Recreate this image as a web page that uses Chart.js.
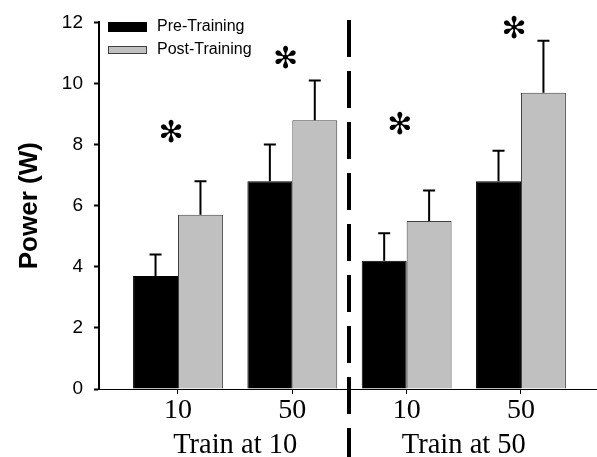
<!DOCTYPE html>
<html>
<head>
<meta charset="utf-8">
<script src="https://cdn.jsdelivr.net/npm/chart.js"></script>
<style>
  html, body { margin: 0; padding: 0; background: #fff; }
  #wrap { width: 597px; height: 457px; }
</style>
</head>
<body>
<div id="wrap"><canvas id="powerChart"></canvas></div>
<script>
// values
const categories = ['10', '50', '10', '50'];
const groups = ['Train at 10', 'Train at 50'];
const preMean = [3.7, 6.8, 4.2, 6.8];
const preSE = [0.7, 1.2, 0.9, 1.0];
const postMean = [5.7, 8.8, 5.5, 9.7];
const postSE = [1.1, 1.3, 1.0, 1.7];
const starLevel = [8.35, 10.75, 8.6, 11.75];
const yTicks = [0, 2, 4, 6, 8, 10, 12];

const errorBars = {
    id: 'errorBars',
    afterDatasetsDraw(chart) {
        const ctx = chart.ctx;
        const y = chart.scales.y;
        const sets = [preSE, postSE];
        ctx.save();
        ctx.strokeStyle = '#000';
        ctx.lineWidth = 2;
        chart.data.datasets.forEach((ds, d) => {
            chart.getDatasetMeta(d).data.forEach((bar, i) => {
                const top = y.getPixelForValue(ds.data[i].y + sets[d][i]);
                ctx.beginPath();
                ctx.moveTo(bar.x, bar.y);
                ctx.lineTo(bar.x, top);
                ctx.moveTo(bar.x - 6, top);
                ctx.lineTo(bar.x + 6, top);
                ctx.stroke();
            });
        });
        ctx.restore();
    }
};

const extras = {
    id: 'extras',
    afterDraw(chart) {
        const ctx = chart.ctx;
        const x = chart.scales.x;
        const y = chart.scales.y;
        ctx.save();

        // significance stars
        ctx.fillStyle = '#000';
        ctx.font = '30px "DejaVu Sans"';
        ctx.textAlign = 'center';
        ctx.textBaseline = 'middle';
        starLevel.forEach((v, i) => {
            ctx.fillText('\u273B', x.getPixelForValue(i - 0.06), y.getPixelForValue(v));
        });

        // group labels
        ctx.font = '28.5px "Liberation Serif"';
        ctx.textBaseline = 'alphabetic';
        groups.forEach((g, k) => {
            ctx.fillText(g, x.getPixelForValue(k * 2 + 0.5), 453);
        });

        // divider
        const dx = Math.round(x.getPixelForValue(1.5));
        ctx.strokeStyle = '#000';
        ctx.lineWidth = 4;
        ctx.setLineDash([37, 14]);
        ctx.beginPath();
        ctx.moveTo(dx, 20);
        ctx.lineTo(dx, 457);
        ctx.stroke();
        ctx.setLineDash([]);

        // legend
        ctx.fillStyle = '#000';
        ctx.fillRect(108, 22, 39, 10);
        ctx.fillStyle = '#c0c0c0';
        ctx.fillRect(108.5, 46.5, 38, 7);
        ctx.lineWidth = 1;
        ctx.strokeStyle = '#404040';
        ctx.strokeRect(108.5, 46.5, 38, 7);
        ctx.fillStyle = '#000';
        ctx.font = '16px "Liberation Sans"';
        ctx.textAlign = 'left';
        ctx.textBaseline = 'middle';
        chart.data.datasets.forEach((ds, d) => {
            ctx.fillText(ds.label, 157, d === 0 ? 27 : 50);
        });
        ctx.restore();
    }
};

new Chart(document.getElementById('powerChart'), {
    type: 'bar',
    data: {
        datasets: [{
            label: 'Pre-Training',
            data: preMean.map((v, i) => ({ x: i, y: v })),
            backgroundColor: '#000',
            borderColor: '#000',
            borderWidth: 1
        }, {
            label: 'Post-Training',
            data: postMean.map((v, i) => ({ x: i, y: v })),
            backgroundColor: '#c0c0c0',
            borderColor: '#404040',
            borderWidth: 1
        }]
    },
    options: {
        responsive: true,
        maintainAspectRatio: false,
        animation: false,
        categoryPercentage: 0.786,
        barPercentage: 1,
        layout: { padding: { top: 22, right: 0, left: 0, bottom: 0 } },
        plugins: {
            legend: { display: false },
            tooltip: { enabled: false }
        },
        scales: {
            x: {
                type: 'linear',
                offset: false,
                min: -0.691,
                max: 3.665,
                afterBuildTicks: scale => { scale.ticks = categories.map((c, i) => ({ value: i })); },
                afterFit: scale => { scale.height = 68; },
                grid: { display: true, offset: false, drawOnChartArea: false, drawTicks: true, tickLength: 5, tickColor: '#000', tickWidth: 1 },
                border: { display: true, color: '#000', width: 1 },
                ticks: {
                    color: '#000',
                    padding: 0,
                    font: { family: 'Liberation Serif', size: 28 },
                    callback: v => categories[v]
                }
            },
            y: {
                min: 0,
                max: 12,
                afterBuildTicks: scale => { scale.ticks = yTicks.map(v => ({ value: v })); },
                afterFit: scale => { scale.width = 99; },
                grid: { display: true, drawOnChartArea: false, drawTicks: true, tickLength: 5, tickColor: '#000', tickWidth: 2 },
                border: { display: true, color: '#000', width: 2 },
                ticks: {
                    color: '#000',
                    padding: 11,
                    font: { family: 'Liberation Sans', size: 19 }
                },
                title: {
                    display: true,
                    text: 'Power (W)',
                    color: '#000',
                    padding: { top: 14, bottom: 0 },
                    font: { family: 'Liberation Sans', size: 26, weight: 'bold' }
                }
            }
        }
    },
    plugins: [errorBars, extras]
});
</script>
</body>
</html>
